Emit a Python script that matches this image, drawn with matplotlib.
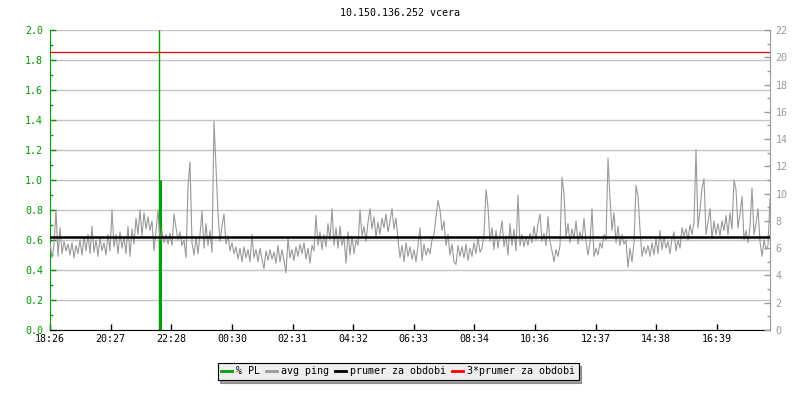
import numpy as np
import matplotlib
matplotlib.use('Agg')
import matplotlib.pyplot as plt

# avg ping in ms, one value every 4 minutes from 18:26 to 18:26 next day
ping_ms = [
    # 18:26 - 23:10
    6.4, 5.3, 6.2, 8.8, 5.4, 7.5, 5.6, 6.5, 5.8, 6.3,
    5.5, 6.4, 5.3, 6.2, 5.6, 6.6, 5.5, 6.8, 5.8, 7.0,
    5.6, 7.6, 5.7, 6.6, 5.4, 6.8, 5.8, 6.4, 5.5, 7.0,
    5.8, 8.8, 6.1, 7.0, 5.6, 7.2, 6.0, 6.8, 5.6, 7.6,
    5.4, 7.4, 6.3, 8.2, 7.0, 8.8, 6.9, 8.6, 7.4, 8.3,
    7.3, 8.0, 5.8, 7.3, 8.8, 6.6, 7.3, 6.4, 7.0, 6.3,
    7.1, 6.2, 8.5, 7.5, 6.6, 7.2, 6.2, 6.6, 5.3, 10.5,
    12.3, 6.4,
    # 23:14 - 03:58
    5.5, 6.8, 5.6, 7.0, 8.7, 6.0, 7.8, 6.2, 7.3, 5.7,
    15.3, 12.0, 8.6, 6.5, 7.6, 8.5, 6.3, 6.9, 5.8, 6.4,
    5.6, 6.1, 5.2, 6.0, 5.0, 6.1, 5.3, 5.9, 5.0, 7.0,
    5.3, 5.9, 5.0, 6.0, 5.2, 4.5, 5.8, 5.1, 5.9, 5.2,
    5.7, 4.9, 6.2, 5.0, 5.9, 5.1, 4.2, 6.7, 5.3, 5.9,
    5.1, 6.1, 5.4, 6.3, 5.6, 6.4, 5.2, 6.0, 4.9, 6.2,
    5.8, 8.4, 6.2, 7.2, 5.9, 7.0, 6.1, 7.8, 6.6, 8.9,
    6.2, 7.5,
    # 04:02 - 08:46
    6.0, 7.6, 6.2, 6.8, 4.9, 7.2, 5.5, 6.9, 5.6, 6.6,
    6.2, 8.8, 6.9, 7.6, 6.5, 7.9, 8.9, 7.4, 8.3, 6.8,
    7.9, 7.0, 8.2, 7.5, 8.5, 7.2, 8.0, 8.9, 7.4, 8.2,
    6.6, 5.3, 6.2, 5.0, 6.4, 5.4, 6.1, 5.2, 5.9, 5.0,
    6.2, 7.5, 5.1, 6.3, 5.5, 6.0, 5.6, 6.6, 7.0, 8.3,
    9.5, 8.8, 7.3, 8.0, 6.2, 7.0, 5.5, 6.3, 5.0, 4.8,
    6.2, 5.4, 6.1, 5.3, 6.3, 5.1, 6.0, 5.4, 6.4, 5.6,
    6.8, 5.7,
    # 08:50 - 13:34
    6.0, 7.0, 10.3, 9.0, 6.5, 7.5, 5.9, 7.3, 6.0, 7.0,
    8.0, 6.1, 6.9, 5.5, 7.8, 6.2, 7.4, 5.8, 9.9, 6.2,
    7.0, 6.1, 6.8, 6.2, 7.1, 6.4, 7.6, 6.6, 7.8, 8.5,
    6.5, 7.1, 6.2, 8.3, 6.5, 5.8, 5.0, 5.9, 5.4, 6.2,
    11.2, 10.0, 6.8, 7.8, 6.4, 7.4, 6.7, 8.0, 6.3, 7.2,
    6.6, 8.2, 6.5, 5.5, 6.4, 8.9, 5.4, 6.0, 5.5, 6.4,
    6.0, 7.0, 6.6, 12.6, 9.6, 7.3, 8.6, 6.4, 7.6, 6.2,
    7.0, 6.3,
    # 13:38 - 18:26
    6.6, 4.6, 6.0, 5.0, 6.4, 10.6, 9.8, 7.4, 5.4, 6.1,
    5.6, 6.2, 5.4, 6.4, 5.5, 6.7, 5.6, 7.3, 5.9, 6.8,
    6.0, 6.5, 5.6, 6.7, 7.2, 5.8, 6.6, 6.0, 7.5, 6.9,
    7.4, 6.6, 7.7, 7.0, 7.9, 13.2, 7.5, 8.8, 10.4, 11.1,
    7.0, 7.9, 8.9, 6.7, 8.0, 7.0, 7.8, 6.9, 8.0, 7.3,
    8.4, 7.0, 8.6, 7.4, 11.0, 10.3, 7.5, 8.5, 9.8, 6.6,
    7.3, 6.4, 7.6, 10.4, 7.0, 7.8, 8.9, 6.5, 5.4, 6.6,
    5.9, 6.2, 9.6,
]
avg_ms = 6.79

# packet loss (left axis), minutes after 18:26
pl_minutes = [218, 219]
pl_values = [2.0, 1.0]

time_labels = ['18:26', '20:27', '22:28', '00:30', '02:31', '04:32',
               '06:33', '08:34', '10:36', '12:37', '14:38', '16:39']

GREEN = '#009900'
GRAY = '#999999'
FONT = 'DejaVu Sans Mono'
FS = 7.2


def to_min(label):
    h, m = map(int, label.split(':'))
    return (h * 60 + m - (18 * 60 + 26)) % 1440


minutes = np.linspace(0, 1440, len(ping_ms))

fig = plt.figure(figsize=(8, 4), dpi=100)
ax = fig.add_axes([50 / 800, 70 / 400, 720 / 800, 300 / 400])
ax2 = ax.twinx()

ax.set_xlim(0, 1440)
ax.set_ylim(0, 2.0)
ax2.set_ylim(0, 22)

# left axis (% PL)
ax.set_yticks(np.arange(0, 2.01, 0.2))
ax.set_yticks(np.arange(0.1, 2.0, 0.2), minor=True)
ax.set_yticklabels(['%.1f' % v for v in np.arange(0, 2.01, 0.2)],
                   family=FONT, fontsize=FS)
ax.tick_params(axis='y', which='major', direction='in', colors=GREEN,
               length=4, width=1, pad=5)
ax.tick_params(axis='y', which='minor', direction='in', colors=GREEN,
               length=2.5, width=1)
ax.grid(axis='y', color='#c4c4c4', lw=1)
ax.set_axisbelow(True)

# x axis
ax.set_xticks([to_min(t) for t in time_labels])
ax.set_xticklabels(time_labels, family=FONT, fontsize=FS)
ax.tick_params(axis='x', direction='in', length=4, width=1, pad=3,
               colors='black')

# right axis (ms)
ax2.set_yticks(np.arange(0, 23, 2))
ax2.set_yticks(np.arange(1, 22, 2), minor=True)
ax2.set_yticklabels([str(v) for v in range(0, 23, 2)],
                    family=FONT, fontsize=FS)
ax2.tick_params(axis='y', which='major', direction='in', colors=GRAY,
                length=4, width=1, pad=4)
ax2.tick_params(axis='y', which='minor', direction='in', colors=GRAY,
                length=2.5, width=1)

for a in (ax, ax2):
    a.spines['top'].set_visible(False)
ax.spines['right'].set_visible(False)
ax2.spines['left'].set_visible(False)
ax.spines['left'].set_color(GREEN)
ax2.spines['right'].set_color(GRAY)
ax.spines['bottom'].set_color('black')
ax2.spines['bottom'].set_visible(False)

# data
ax.vlines(pl_minutes, 0, pl_values, colors='#00a000',
          linewidths=[1, 2.2])
h_pl, = ax.plot([], [], color='#00a000', lw=2)
h_ping, = ax2.plot(minutes, ping_ms, color=GRAY, lw=0.8)
h_avg = ax2.axhline(avg_ms, color='black', lw=1.8)
h_avg3 = ax2.axhline(3 * avg_ms, color='#ff0000', lw=0.9)

fig.text(0.5, 1 - 13 / 400, '10.150.136.252 vcera', ha='center',
         va='center', family=FONT, fontsize=FS)

leg = fig.legend([h_pl, h_ping, h_avg, h_avg3],
                 ['% PL', 'avg ping', 'prumer za obdobi',
                  '3*prumer za obdobi'],
                 loc='center', bbox_to_anchor=(398 / 800, 1 - 371.5 / 400),
                 ncol=4, frameon=True, fancybox=False, shadow=True,
                 prop={'family': FONT, 'size': FS},
                 handlelength=1.1, handletextpad=0.4, columnspacing=0.6,
                 borderpad=0.35, borderaxespad=0)
leg.get_frame().set_facecolor('#eeeeee')
leg.get_frame().set_edgecolor('black')
leg.get_frame().set_linewidth(0.8)
leg.get_frame().set_alpha(1)
for line in leg.get_lines():
    line.set_linewidth(2)

fig.savefig('out.png', dpi=100)
